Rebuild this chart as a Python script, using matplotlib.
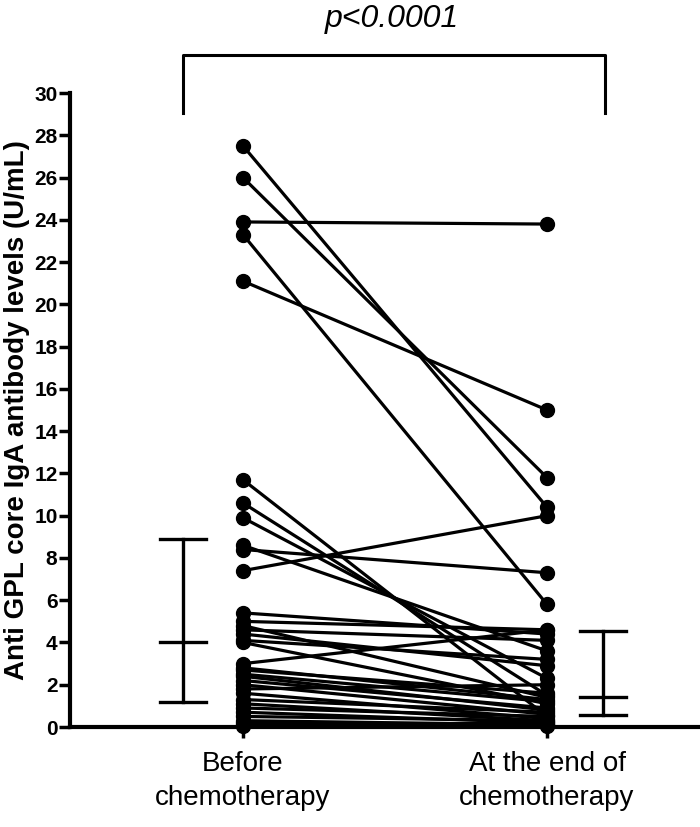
import matplotlib
matplotlib.use("Agg")
import matplotlib.pyplot as plt

# paired values, one per patient
before = [27.5, 26.0, 23.9, 23.3, 21.1, 11.7, 10.6, 9.9, 8.6, 8.4, 7.4,
          5.4, 5.0, 4.8, 4.6, 4.4, 4.1, 4.0, 3.0, 2.8, 2.7, 2.5, 2.4, 2.2,
          2.0, 1.8, 1.6, 1.3, 1.1, 0.9, 0.7, 0.5, 0.3, 0.2, 0.1, 0.05]
after = [10.4, 11.8, 23.8, 5.8, 15.0, 0.5, 1.5, 2.3, 3.6, 7.3, 10.0,
         4.4, 4.6, 1.4, 4.1, 2.9, 3.2, 1.1, 4.6, 1.3, 1.6, 1.2, 0.8, 0.9,
         0.6, 2.0, 0.4, 0.7, 0.3, 0.5, 0.2, 0.3, 0.1, 0.2, 0.1, 0.05]

groups = ["Before\nchemotherapy", "At the end of\nchemotherapy"]

# median and interquartile range drawn beside each column
medians = [4.0, 1.4]
q1 = [1.2, 0.57]
q3 = [8.9, 4.56]
bar_x = [-0.197, 1.184]

p_text = "p<0.0001"

plt.rcParams["font.family"] = ["Liberation Sans", "DejaVu Sans"]

fig = plt.figure(figsize=(7, 8.27), dpi=100)
ax = fig.add_axes([0.1, 0.1209, 0.9, 0.7666])

for b, a in zip(before, after):
    ax.plot([0, 1], [b, a], color="black", lw=2.3, marker="o", ms=10,
            solid_capstyle="butt", clip_on=False, zorder=3)

cap = 0.076
for x, m, lo, hi in zip(bar_x, medians, q1, q3):
    ax.plot([x, x], [lo, hi], color="black", lw=2.4)
    for y in (lo, m, hi):
        ax.plot([x - cap, x + cap], [y, y], color="black", lw=2.4)

# significance bracket above the plot
bl, br = -0.197, 1.19
ax.plot([bl, bl, br, br], [29.06, 31.8, 31.8, 29.06], color="black",
        lw=2.2, clip_on=False)
ax.text(0.49, 33.5, p_text, ha="center", va="center", fontsize=23,
        style="italic", clip_on=False)

ax.set_xlim(-0.569, 1.503)
ax.set_ylim(0, 30)
ax.set_yticks(range(0, 31, 2))
ax.set_xticks([0, 1])
ax.set_xticklabels(groups, fontsize=20, linespacing=1.4)
for lab in ax.get_yticklabels():
    lab.set_fontweight("bold")
    lab.set_fontsize(15)

ax.spines["top"].set_visible(False)
ax.spines["right"].set_visible(False)
ax.spines["left"].set_linewidth(3)
ax.spines["bottom"].set_linewidth(3)
ax.tick_params(axis="y", direction="out", length=8, width=2.5, pad=1)
ax.tick_params(axis="x", direction="out", length=8, width=2.5, pad=9)

ax.set_ylabel("Anti GPL core IgA antibody levels (U/mL)", fontsize=20,
              fontweight="bold", labelpad=3)

fig.savefig("out.png", dpi=100)
